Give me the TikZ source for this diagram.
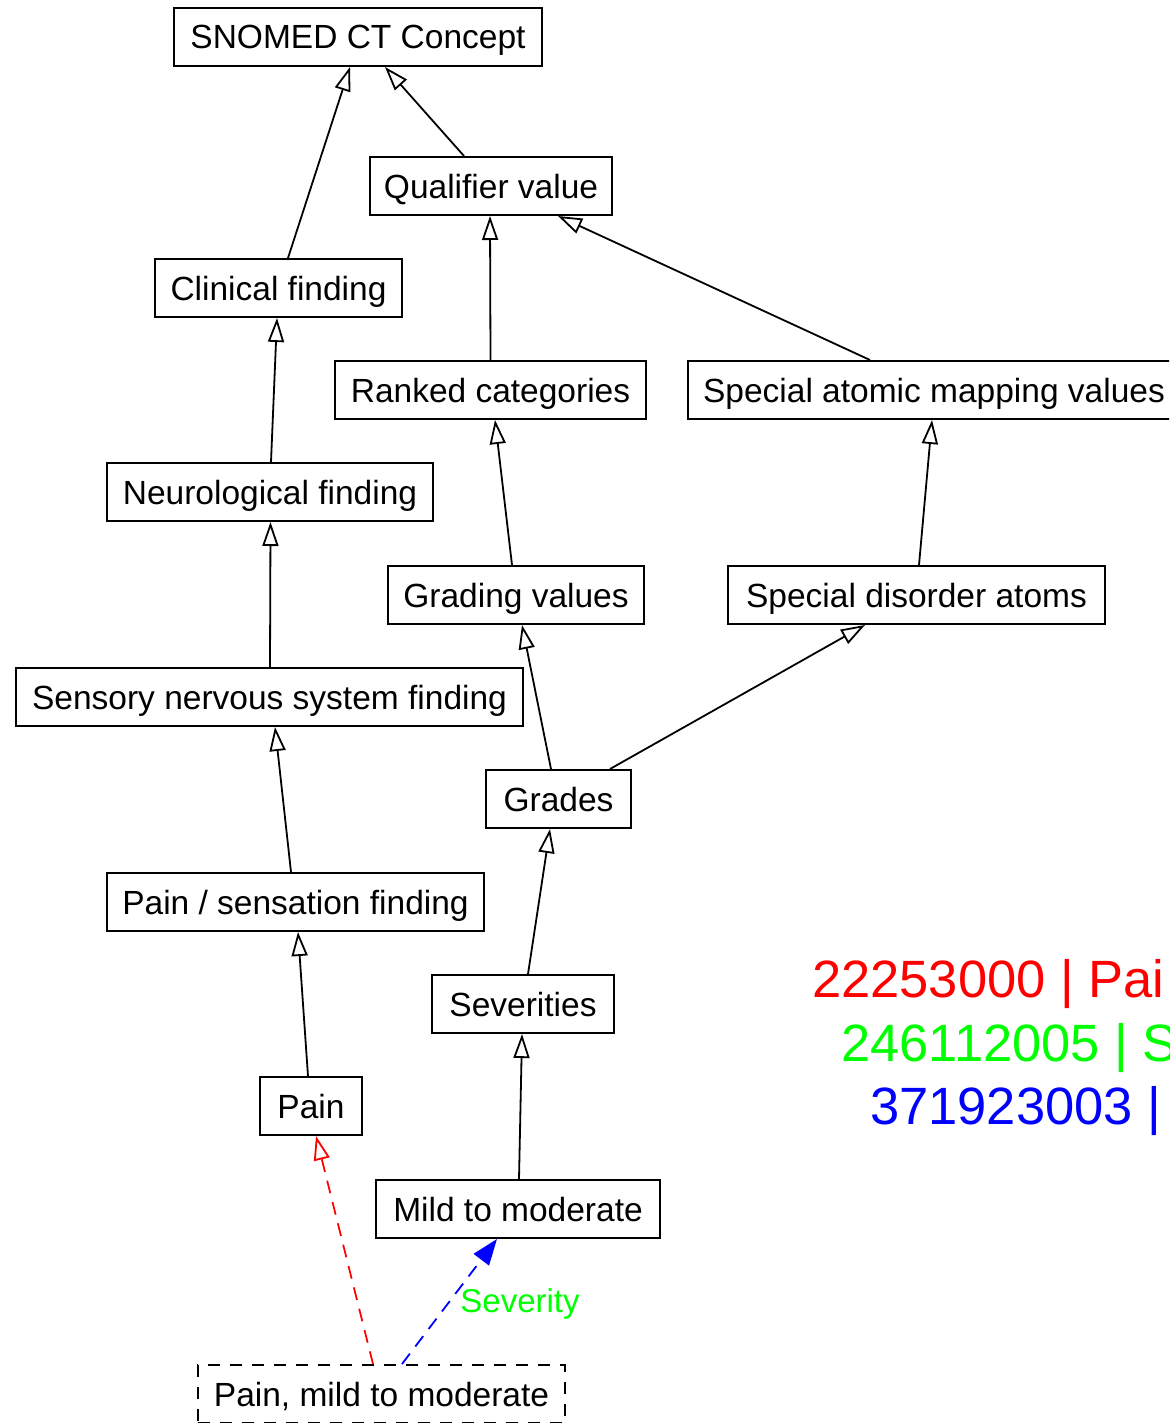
\documentclass[tikz,border=0pt]{standalone}
\usepackage{fontspec}
\setmainfont{Liberation Sans}
\usetikzlibrary{arrows.meta}
\definecolor{pgreen}{RGB}{0,255,0}
\definecolor{pred}{RGB}{255,0,0}
\definecolor{pblue}{RGB}{0,0,255}
\tikzset{
  cbox/.style={draw=black, line width=2pt, inner sep=0pt, minimum height=58pt,
    font=\fontsize{33.5}{38}\selectfont, text depth=0pt, anchor=center},
  isa/.style={draw=black, line width=1.8pt, -{Triangle[open,length=24pt,width=16pt,line width=1.8pt]}},
  redisa/.style={draw=pred, line width=1.8pt, dash pattern=on 13pt off 9pt, -{Triangle[open,length=24pt,width=16pt,line width=1.8pt]}},
  relarr/.style={draw=pblue, line width=1.8pt, dash pattern=on 13pt off 9pt, -{Triangle[length=26pt,width=19pt]}},
  bigtxt/.style={font=\fontsize{52.5}{60}\selectfont, anchor=base west, inner sep=0pt}
}
\begin{document}
\begin{tikzpicture}[x=1pt,y=-1pt]
\clip (0,0) rectangle (1169,1423);
\fill[white] (0,0) rectangle (1169,1423);

\node[cbox, minimum width=368pt] (snomed) at (358,37) {SNOMED CT Concept};
\node[cbox, minimum width=242pt] (qual) at (491,186) {Qualifier value};
\node[cbox, minimum width=247pt] (clin) at (278.5,288) {Clinical finding};
\node[cbox, minimum width=311pt] (ranked) at (490.5,390) {Ranked categories};
\node[cbox, minimum width=492pt] (atomic) at (934,390) {Special atomic mapping values};
\node[cbox, minimum width=326pt] (neuro) at (270,492) {Neurological finding};
\node[cbox, minimum width=256pt] (grading) at (516,595) {Grading values};
\node[cbox, minimum width=377pt] (disorder) at (916.5,595) {Special disorder atoms};
\node[cbox, minimum width=507pt] (sensory) at (269.5,697) {Sensory nervous system finding};
\node[cbox, minimum width=145pt] (grades) at (558.5,799) {Grades};
\node[cbox, minimum width=377pt] (painsens) at (295.5,902) {Pain / sensation finding};
\node[cbox, minimum width=182pt] (sev) at (523,1004) {Severities};
\node[cbox, minimum width=102pt] (pain) at (311,1106) {Pain};
\node[cbox, minimum width=284pt] (mild) at (518,1209) {Mild to moderate};
\node[cbox, minimum width=367pt, dash pattern=on 12pt off 10pt] (pmm) at (381.5,1394) {Pain, mild to moderate};

\draw[isa] ([xshift=9.5pt]clin.north) -- ([xshift=-8pt]snomed.south);
\draw[isa] ([xshift=-27pt]qual.north) -- ([xshift=27pt]snomed.south);
\draw[isa] ([xshift=0pt]ranked.north) -- ([xshift=-1pt]qual.south);
\draw[isa] ([xshift=-64pt]atomic.north) -- ([xshift=67pt]qual.south);
\draw[isa] ([xshift=1pt]neuro.north) -- ([xshift=-1.5pt]clin.south);
\draw[isa] ([xshift=-4pt]grading.north) -- ([xshift=4.5pt]ranked.south);
\draw[isa] ([xshift=2.5pt]disorder.north) -- ([xshift=-2pt]atomic.south);
\draw[isa] ([xshift=0.5pt]sensory.north) -- ([xshift=0.5pt]neuro.south);
\draw[isa] ([xshift=-7.5pt]grades.north) -- ([xshift=6pt]grading.south);
\draw[isa] ([xshift=51.5pt]grades.north) -- ([xshift=-51.5pt]disorder.south);
\draw[isa] ([xshift=-4.5pt]painsens.north) -- ([xshift=5.5pt]sensory.south);
\draw[isa] ([xshift=5pt]sev.north) -- ([xshift=-8.5pt]grades.south);
\draw[isa] ([xshift=-3pt]pain.north) -- ([xshift=2.5pt]painsens.south);
\draw[isa] ([xshift=1pt]mild.north) -- ([xshift=-1pt]sev.south);

\draw[redisa] ([xshift=-8.5pt]pmm.north) -- ([xshift=5pt]pain.south);
\draw[relarr] ([xshift=20.5pt]pmm.north) -- ([xshift=-21pt]mild.south)
  node[pos=0.5, anchor=west, text=pgreen, font=\fontsize{33}{38}\selectfont, inner sep=0pt, xshift=10pt, yshift=-2pt] (sevlbl) {Severity};

\node[bigtxt, text=pred] (l1) at (812,997) {22253000 | Pai};
\node[bigtxt, text=pgreen] (l2) at (841,1061) {246112005 | S};
\node[bigtxt, text=pblue] (l3) at (870,1124) {371923003 |};
\end{tikzpicture}
\end{document}
